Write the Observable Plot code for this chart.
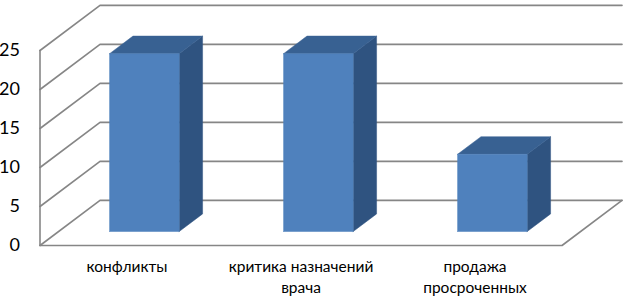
<!DOCTYPE html>
<html>
<head>
<meta charset="utf-8">
<script src="https://cdn.jsdelivr.net/npm/d3@7"></script>
<script src="https://cdn.jsdelivr.net/npm/@observablehq/plot@0.6"></script>
<style>html,body{margin:0;padding:0;background:#fff}svg{display:block}</style>
</head>
<body>
<div id="chart"></div>
<script>
const categories = ["конфликты", "критика назначений\nврача", "продажа\nпросроченных"];
const values = [22.8, 22.8, 9.9];
const ticks = [0, 5, 10, 15, 20, 25];

// Oblique projection: depth d in 0..1 shifts a point along x and value
const depthX = 60 / 174, depthY = 45 / 7.78;
const barStart = 0.31, barEnd = 0.7, barHalf = 0.2, barCenter = 0.493;
const P = (u, v, d) => ({x: u + d * depthX, y: v + d * depthY});
const n = categories.length;

const gridColor = "#868686";
const gridLines = ticks.map(t => [P(0, t, 0), P(0, t, 1), P(n, t, 1)]);
const frame = [[P(0, 0, 0), P(0, 25, 0)], [P(0, 0, 0), P(n, 0, 0), P(n, 0, 1)]];

const barFaces = values.flatMap((v, i) => {
  const l = i + barCenter - barHalf, r = i + barCenter + barHalf;
  return [
    {c: "#2f5380", pts: [P(r, 0, barStart), P(r, 0, barEnd), P(r, v, barEnd), P(r, v, barStart)]},
    {c: "#386192", pts: [P(l, v, barStart), P(r, v, barStart), P(r, v, barEnd), P(l, v, barEnd)]},
    {c: "#4f81bd", pts: [P(l, 0, barStart), P(r, 0, barStart), P(r, v, barStart), P(l, v, barStart)]}
  ];
});

const labels = categories.map((c, i) => ({u: i + 0.5, c}));

const chart = Plot.plot({
  width: 627, height: 297,
  marginLeft: 39.5, marginRight: 65.5, marginTop: 50, marginBottom: 52,
  style: {fontFamily: "Lato, 'Open Sans', sans-serif", background: "#fff", overflow: "visible"},
  x: {domain: [0, n], axis: null},
  y: {domain: [0, 25], label: null},
  marks: [
    ...gridLines.map(l => Plot.line(l, {x: "x", y: "y", stroke: gridColor, strokeWidth: 1.6})),
    ...frame.map(l => Plot.line(l, {x: "x", y: "y", stroke: gridColor, strokeWidth: 1.6})),
    ...barFaces.map(f => Plot.line([...f.pts, f.pts[0]], {x: "x", y: "y", fill: f.c, stroke: f.c, strokeWidth: 0.5})),
    Plot.axisY({ticks, tickSize: 0, tickPadding: 20, fontSize: 18, label: null, fill: "#000"}),
    Plot.text(labels, {x: "u", y: () => 0, text: "c", dy: 11, lineAnchor: "top", lineHeight: 1.38, fontSize: 15.5, fill: "#000"})
  ]
});
document.getElementById("chart").append(chart);
</script>
</body>
</html>
